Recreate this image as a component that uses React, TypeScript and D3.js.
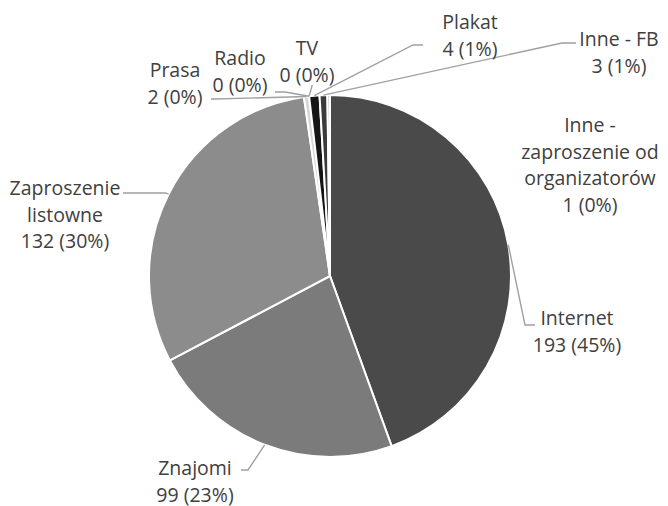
import React from "react";
import * as d3 from "d3";

const categories = [
  "Internet",
  "Znajomi",
  "Zaproszenie listowne",
  "Prasa",
  "Radio",
  "TV",
  "Plakat",
  "Inne - FB",
  "Inne - zaproszenie od organizatorów",
];
const values = [193, 99, 132, 2, 0, 0, 4, 3, 1];
const percents = [45, 23, 30, 0, 0, 0, 1, 1, 0];
const labelLines = [
  ["Internet"],
  ["Znajomi"],
  ["Zaproszenie", "listowne"],
  ["Prasa"],
  ["Radio"],
  ["TV"],
  ["Plakat"],
  ["Inne - FB"],
  ["Inne -", "zaproszenie od", "organizatorów"],
];

const colors = ["#4a4a4a", "#7b7b7b", "#8c8c8c", "#d6d6d6", "#cccccc", "#cccccc", "#151515", "#3a3a3a", "#bdbdbd"];

// label layout: center x, first baseline y, leader bend points (after pie edge point)
const labelLayout: { x: number; y: number; leader: [number, number][] | null }[] = [
  { x: 577, y: 325, leader: [[525, 325], [535, 325]] },
  { x: 195, y: 475, leader: [[248, 470], [241, 470]] },
  { x: 65, y: 195, leader: [[165, 193], [123, 193]] },
  { x: 175, y: 77, leader: [[215, 99], [211, 99]] },
  { x: 240, y: 65, leader: [[285, 92], [275, 92]] },
  { x: 307, y: 55, leader: [[312, 86], [312, 85]] },
  { x: 470, y: 29, leader: [[413, 45], [423, 45]] },
  { x: 619, y: 46, leader: [[562, 43], [576, 43]] },
  { x: 590, y: 132, leader: null },
];

const W = 668;
const H = 506;
const cx = 330;
const cy = 276;
const R = 181;
const LH = 26.5;

export default function App() {
  const pie = d3
    .pie<number>()
    .sort(null)
    .value((d) => d)
    .startAngle(0)
    .endAngle(2 * Math.PI);
  const arcs = pie(values);
  const arc = d3.arc<d3.PieArcDatum<number>>().innerRadius(0).outerRadius(R);
  const line = d3.line();

  return (
    <div style={{ position: "absolute", left: 0, top: 0 }}>
      <svg width={W} height={H} style={{ display: "block", background: "#fff" }}>
        <g transform={`translate(${cx},${cy})`}>
          {arcs.map((a, i) =>
            a.value > 0 ? (
              <path key={i} d={arc(a) || ""} fill={colors[i]} stroke="#fff" strokeWidth={2} />
            ) : null
          )}
        </g>
        {arcs.map((a, i) => {
          const L = labelLayout[i];
          if (!L.leader) return null;
          const mid = (a.startAngle + a.endAngle) / 2;
          const ex = cx + R * Math.sin(mid);
          const ey = cy - R * Math.cos(mid);
          const pts: [number, number][] = [[ex, ey], ...L.leader];
          return <path key={"l" + i} d={line(pts) || ""} fill="none" stroke="#a0a0a0" strokeWidth={1.4} />;
        })}
        {arcs.map((a, i) => {
          const L = labelLayout[i];
          const lines = [...labelLines[i], `${values[i]} (${percents[i]}%)`];
          return (
            <text
              key={"t" + i}
              x={L.x}
              y={L.y}
              textAnchor="middle"
              fontFamily="'Open Sans', sans-serif"
              fontSize={19.5}
              fill="#404040"
            >
              {lines.map((s, j) => (
                <tspan key={j} x={L.x} y={L.y + j * LH}>
                  {s}
                </tspan>
              ))}
            </text>
          );
        })}
      </svg>
    </div>
  );
}
